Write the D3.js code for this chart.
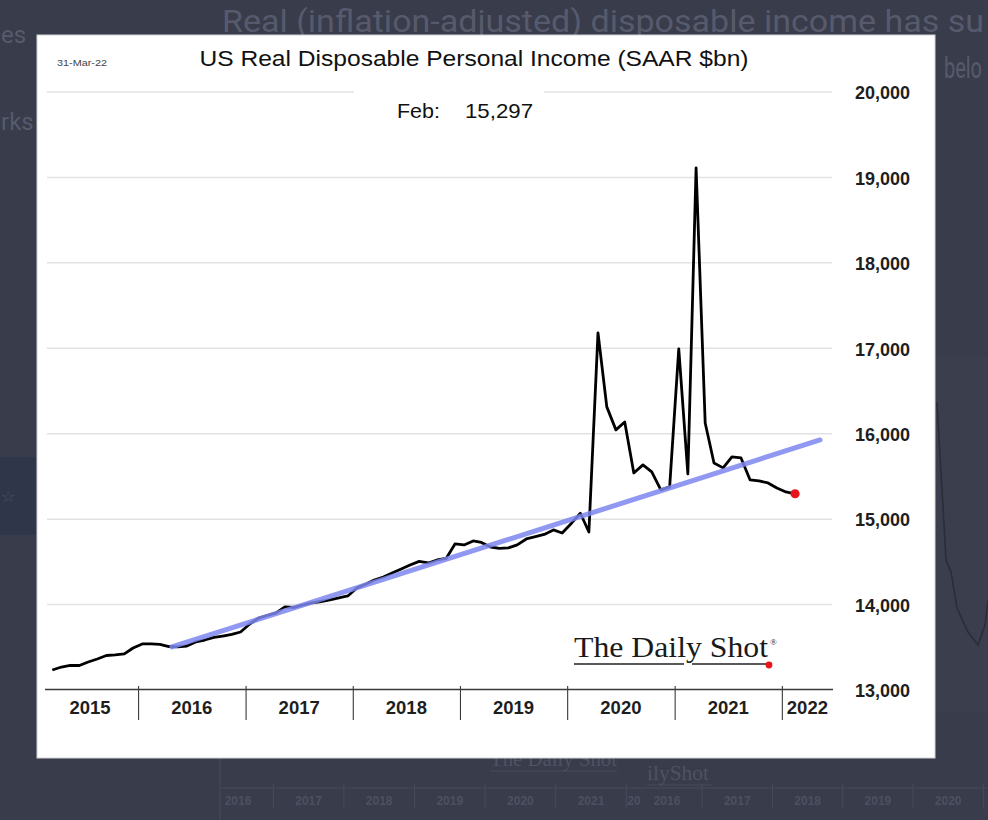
<!DOCTYPE html>
<html>
<head>
<meta charset="utf-8">
<script src="https://cdn.jsdelivr.net/npm/d3@7"></script>
<style>
  body { margin: 0; background: #393c4b; overflow: hidden; }
</style>
</head>
<body>
<div id="chart"></div>
<script>
// ---- data ----
const firstMonth = "2015-03";
const incomeValues = [
    // 2015 (Mar-Dec)
    13234, 13269, 13287, 13287, 13328, 13363, 13404, 13410, 13422, 13492,
    // 2016
    13539, 13539, 13533, 13509, 13504, 13515, 13562, 13585, 13615, 13632, 13650, 13679,
    // 2017
    13773, 13843, 13872, 13902, 13972, 13966, 13995, 14019, 14036, 14054, 14077, 14101,
    // 2018
    14194, 14241, 14288, 14323, 14370, 14417, 14464, 14505, 14487, 14522, 14540, 14710,
    // 2019
    14698, 14745, 14727, 14674, 14659, 14663, 14698, 14768, 14795, 14821, 14874, 14838,
    // 2020
    14950, 15069, 14850, 17180, 16314, 16045, 16138, 15541, 15635, 15553, 15342, 15377,
    // 2021
    16993, 15529, 19112, 16126, 15658, 15600, 15728, 15716, 15459, 15447, 15424, 15365,
    // 2022
    15318, 15297
];
const trendDates = ["2016-04-25", "2022-05-11"];
const trendValues = [13504, 15927];
const yTicks = [13000, 14000, 15000, 16000, 17000, 18000, 19000, 20000];
const yearLabels = [2015, 2016, 2017, 2018, 2019, 2020, 2021, 2022];
const latestLabel = ["Feb:", "15,297"];
const chartTitle = "US Real Disposable Personal Income (SAAR $bn)";
const dateStamp = "31-Mar-22";

// background page fragments (faded screenshot behind the chart)
const bgYearsA = ["2016", "2017", "2018", "2019", "2020", "2021"];
const bgYearsB = ["2016", "2017", "2018", "2019", "2020"];

const W = 988, H = 820;
const parseMonth = d3.timeParse("%Y-%m");
const parseDay = d3.timeParse("%Y-%m-%d");

const start = parseMonth(firstMonth);
const series = incomeValues.map((v, i) => ({
    date: d3.timeDay.offset(d3.timeMonth.offset(start, i), 14),
    value: v
}));

const svg = d3.select("#chart").append("svg")
    .attr("width", W)
    .attr("height", H)
    .attr("font-family", "Liberation Sans, Arial, sans-serif");

// ---- faded page behind ----
svg.append("rect").attr("width", W).attr("height", H).attr("fill", "#393c4b");

let bg = svg.append("g").attr("fill", "#575a6c").attr("font-family", "Roboto, sans-serif");
bg.append("text").attr("x", 222).attr("y", 32).attr("font-size", 32)
    .attr("textLength", 762).attr("lengthAdjust", "spacingAndGlyphs")
    .text("Real (inflation-adjusted) disposable income has su");
bg.append("text").attr("x", 944).attr("y", 78).attr("font-size", 30)
    .attr("textLength", 38).attr("lengthAdjust", "spacingAndGlyphs")
    .text("belo");
bg.append("text").attr("x", 1).attr("y", 43).attr("font-size", 24).text("es");
bg.append("text").attr("x", 1).attr("y", 130).attr("font-size", 24).text("rks");

svg.append("rect").attr("x", 0).attr("y", 457).attr("width", 40).attr("height", 78)
    .attr("fill", "#2f3649");
svg.append("text").attr("x", 1).attr("y", 502).attr("font-size", 16)
    .attr("fill", "#4a5168").text("\u2606");

// right side fragment
svg.append("rect").attr("x", 935).attr("y", 355).attr("width", 53).attr("height", 357)
    .attr("fill", "#3b3e4d");
bg.append("text").attr("x", 938).attr("y", 376).attr("font-size", 15).text("% of");
bg.append("text").attr("x", 937).attr("y", 398).attr("font-size", 15).text("me");
svg.append("path")
    .attr("d", "M937,402 L946,560 L951,572 L957,608 L968,632 L978,645 L985,625 L988,600")
    .attr("fill", "none").attr("stroke", "#2a2c37").attr("stroke-width", 1.5);

// bottom fragment: repeated axis
let bgAxis = svg.append("g").attr("stroke", "#474a5b").attr("stroke-width", 1);
bgAxis.append("line").attr("x1", 220).attr("x2", 220).attr("y1", 758).attr("y2", 820);
bgAxis.append("line").attr("x1", 220).attr("x2", 988).attr("y1", 788).attr("y2", 788);

let bgA = d3.scaleLinear().domain([0, 1]).range([238, 308.6]);
let bgB = d3.scaleLinear().domain([0, 1]).range([667, 737.3]);
let bgLabels = svg.append("g").attr("font-size", 12).attr("font-weight", "bold")
    .attr("fill", "#4d5062").attr("text-anchor", "middle");
bgLabels.selectAll("text.a").data(bgYearsA).join("text").attr("class", "a")
    .attr("x", (d, i) => bgA(i)).attr("y", 805).text(d => d);
bgLabels.selectAll("text.b").data(bgYearsB).join("text").attr("class", "b")
    .attr("x", (d, i) => bgB(i)).attr("y", 805).text(d => d);
bgLabels.append("text").attr("x", 634).attr("y", 805).text("20");
bgAxis.selectAll("line.sepA").data(bgYearsA).join("line").attr("class", "sepA")
    .attr("x1", (d, i) => bgA(i + 0.5)).attr("x2", (d, i) => bgA(i + 0.5))
    .attr("y1", 784).attr("y2", 808);
bgAxis.selectAll("line.sepB").data(bgYearsB).join("line").attr("class", "sepB")
    .attr("x1", (d, i) => bgB(i + 0.5)).attr("x2", (d, i) => bgB(i + 0.5))
    .attr("y1", 784).attr("y2", 808);
svg.append("text").attr("x", 490).attr("y", 766).attr("font-size", 22)
    .attr("font-family", "Liberation Serif, serif").attr("fill", "#4f5264")
    .attr("textLength", 127).attr("lengthAdjust", "spacingAndGlyphs").text("The Daily Shot");
svg.append("text").attr("x", 647).attr("y", 780).attr("font-size", 20)
    .attr("font-family", "Liberation Serif, serif").attr("fill", "#4f5264")
    .attr("textLength", 62).attr("lengthAdjust", "spacingAndGlyphs").text("ilyShot");
bgAxis.append("line").attr("x1", 490).attr("x2", 617).attr("y1", 771).attr("y2", 771);
bgAxis.append("line").attr("x1", 647).attr("x2", 712).attr("y1", 785).attr("y2", 785);

// ---- chart panel ----
svg.append("rect")
    .attr("x", 37).attr("y", 35)
    .attr("width", 898).attr("height", 723)
    .attr("fill", "#ffffff")
    .attr("stroke", "#d4d4d8").attr("stroke-width", 1);

// scales
const x = d3.scaleTime()
    .domain([new Date(2015, 1, 1), new Date(2022, 6, 1)])
    .range([40, 835]);

const y = d3.scaleLinear()
    .domain([13000, 20000])
    .range([690, 92]);

// gridlines
svg.append("g")
    .selectAll("line")
    .data(yTicks.filter(d => d > 13000))
    .join("line")
    .attr("x1", 47).attr("x2", 832)
    .attr("y1", d => y(d)).attr("y2", d => y(d))
    .attr("stroke", "#e2e2e2")
    .attr("stroke-width", 1.5);

// right axis labels
let yAxis = d3.axisRight(y)
    .tickValues(yTicks)
    .tickSize(0)
    .tickPadding(0)
    .tickFormat(d3.format(","));

let yAxisGroup = svg.append("g")
    .attr("transform", "translate(855,1)")
    .call(yAxis);
yAxisGroup.select(".domain").remove();
yAxisGroup.attr("font-family", "Liberation Sans, Arial, sans-serif")
    .attr("font-size", 18);
yAxisGroup.selectAll("text")
    .attr("font-weight", "bold")
    .attr("fill", "#1e1e1e");

// bottom axis: line + year separators
const yearStarts = yearLabels.slice(1).map(yr => new Date(yr, 0, 1));
let xAxis = d3.axisBottom(x)
    .tickValues(yearStarts)
    .tickSize(31)
    .tickSizeOuter(0)
    .tickFormat("");

let xAxisGroup = svg.append("g")
    .attr("transform", "translate(0,689)")
    .call(xAxis);
xAxisGroup.select(".domain")
    .attr("stroke", "#3a3a3a").attr("stroke-width", 1.3)
    .attr("d", "M45,0.5H833");
xAxisGroup.selectAll(".tick line")
    .attr("stroke", "#3a3a3a").attr("stroke-width", 1.1)
    .attr("y1", -3);

// year labels, centred on the visible part of each year
svg.append("g")
    .selectAll("text")
    .data(yearLabels)
    .join("text")
    .attr("x", yr => {
        let a = Math.max(x(new Date(yr, 0, 1)), 42);
        let b = Math.min(x(new Date(yr + 1, 0, 1)), 833);
        return (a + b) / 2;
    })
    .attr("y", 714)
    .attr("text-anchor", "middle")
    .attr("font-size", 18.5)
    .attr("font-weight", "bold")
    .attr("fill", "#1e1e1e")
    .text(d => d);

// title + date stamp
svg.append("text")
    .attr("x", 474).attr("y", 66)
    .attr("text-anchor", "middle")
    .attr("font-size", 22)
    .attr("fill", "#111")
    .attr("textLength", 549)
    .attr("lengthAdjust", "spacingAndGlyphs")
    .text(chartTitle);

svg.append("text")
    .attr("x", 57).attr("y", 66)
    .attr("font-size", 9)
    .attr("fill", "#444")
    .attr("textLength", 50)
    .attr("lengthAdjust", "spacingAndGlyphs")
    .text(dateStamp);

// latest value label (sits over the top gridline)
svg.append("rect")
    .attr("x", 354).attr("y", 86)
    .attr("width", 190).attr("height", 14)
    .attr("fill", "#fff");
svg.append("text")
    .attr("x", 397).attr("y", 118)
    .attr("font-size", 21).attr("fill", "#111")
    .attr("textLength", 43).attr("lengthAdjust", "spacingAndGlyphs")
    .text(latestLabel[0]);
svg.append("text")
    .attr("x", 465).attr("y", 118)
    .attr("font-size", 21).attr("fill", "#111")
    .attr("textLength", 68).attr("lengthAdjust", "spacingAndGlyphs")
    .text(latestLabel[1]);

// data line
let line = d3.line()
    .x(d => x(d.date))
    .y(d => y(d.value));

svg.append("path")
    .datum(series)
    .attr("fill", "none")
    .attr("stroke", "#000")
    .attr("stroke-width", 2.8)
    .attr("stroke-linejoin", "round")
    .attr("d", line);

// trend line
let trend = trendDates.map((d, i) => ({ date: parseDay(d), value: trendValues[i] }));
svg.append("path")
    .datum(trend)
    .attr("fill", "none")
    .attr("stroke", "#7d86ee")
    .attr("stroke-opacity", 0.85)
    .attr("stroke-width", 5)
    .attr("stroke-linecap", "round")
    .attr("d", line);

// latest point
let last = series[series.length - 1];
svg.append("circle")
    .attr("cx", x(last.date))
    .attr("cy", y(last.value))
    .attr("r", 4.6)
    .attr("fill", "#e8161c");

// logo
let logo = svg.append("g");
logo.append("text")
    .attr("x", 574).attr("y", 657)
    .attr("font-size", 29)
    .attr("font-family", "Liberation Serif, 'DejaVu Serif', serif")
    .attr("fill", "#1a1a1a")
    .attr("textLength", 194)
    .attr("lengthAdjust", "spacingAndGlyphs")
    .text("The Daily Shot");
logo.append("text")
    .attr("x", 770).attr("y", 645)
    .attr("font-size", 9)
    .attr("font-family", "Liberation Serif, serif")
    .attr("fill", "#1a1a1a")
    .text("\u00AE");
logo.append("line").attr("x1", 574).attr("x2", 684).attr("y1", 664).attr("y2", 664)
    .attr("stroke", "#222").attr("stroke-width", 1.6);
logo.append("line").attr("x1", 692).attr("x2", 768).attr("y1", 664).attr("y2", 664)
    .attr("stroke", "#222").attr("stroke-width", 1.6);
logo.append("circle").attr("cx", 769).attr("cy", 665).attr("r", 3.4).attr("fill", "#e8161c");
</script>
</body>
</html>
